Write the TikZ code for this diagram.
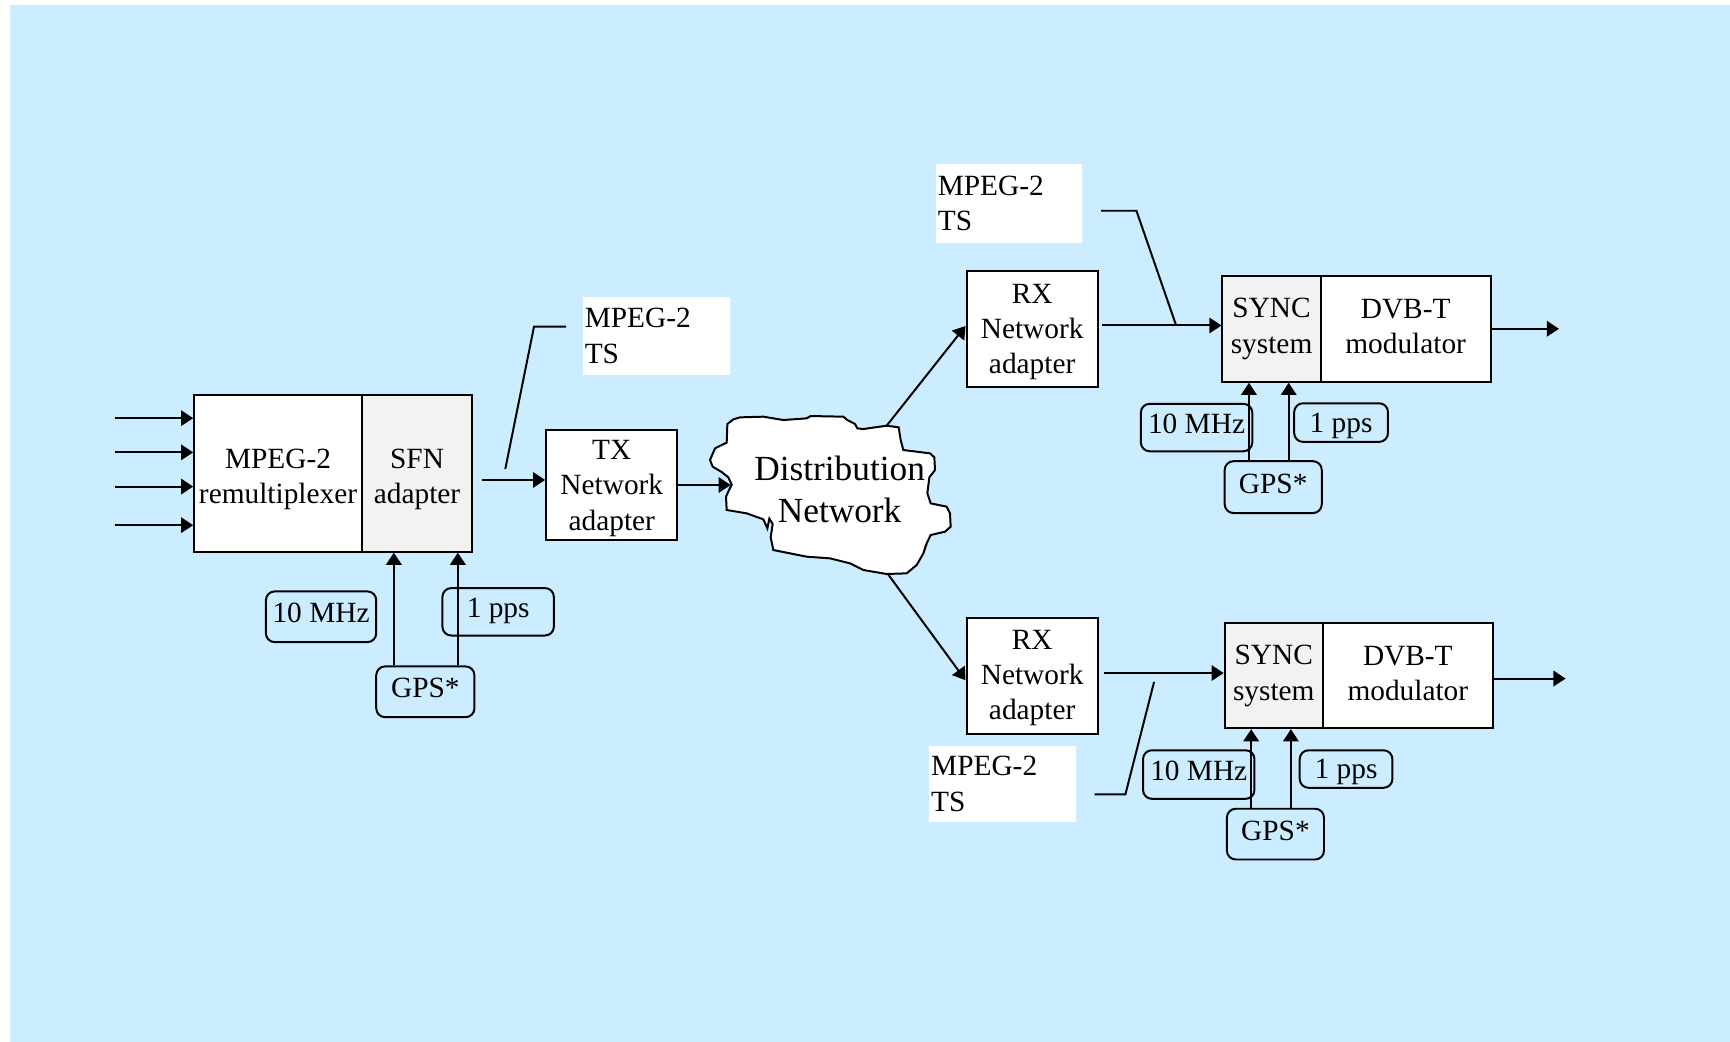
\documentclass[tikz,border=0pt]{standalone}
\usepackage{fontspec}
\setmainfont{Liberation Serif}
\usetikzlibrary{arrows.meta}
\definecolor{bgblue}{RGB}{204,236,255}
\definecolor{lgray}{RGB}{242,242,242}
\begin{document}
\begin{tikzpicture}[x=0.5pt,y=-0.5pt,
 line width=0.9pt,
 txt/.style={font=\fontsize{13.3}{16}\selectfont},
 blk/.style={draw, fill=white, inner sep=0pt},
 gblk/.style={blk, fill=lgray},
 btxt/.style={txt, align=center, inner sep=0pt},
 rbox/.style={draw, rounded corners=4pt, txt, inner sep=0pt, text height=9pt, text depth=3.5pt},
 ppsbox/.style={rbox, text depth=0pt},
 lbl/.style={fill=white, txt, align=left, inner xsep=1pt, inner ysep=0pt},
 arr/.style={-{Triangle[length=5.5pt,width=7pt]}},
]
\useasboundingbox (0,0) rectangle (1568,944);
\fill[bgblue] (9,4.5) rectangle (1568,944);

% ---- left group
\node[blk, minimum width=76pt, minimum height=71pt] (remux) at (252,429) {};
\node[btxt] (remuxT) at ([yshift=-2.75pt]remux.center) {MPEG-2\\remultiplexer};
\node[gblk, minimum width=50pt, minimum height=71pt] (sfn) at (378,429) {};
\node[btxt] (sfnT) at ([yshift=-2.75pt]sfn.center) {SFN\\adapter};
\node[rbox, minimum width=50pt, minimum height=23pt] (mhzL) at (291,559) {10 MHz};
\node[rbox, minimum width=50.5pt, minimum height=21.5pt] (ppsL) at (451.5,554.5) {1 pps};
\node[rbox, minimum width=44.5pt, minimum height=23pt] (gpsL) at (385.5,627) {GPS*};
\draw[arr] ([xshift=-14.25pt]gpsL.north) -- ([xshift=-14.25pt]gpsL.north |- sfn.south);
\draw[arr] ([xshift=14.75pt]gpsL.north) -- ([xshift=14.75pt]gpsL.north |- sfn.south);

\foreach \i/\yy in {1/379,2/410,3/441,4/476}{
  \coordinate (in\i) at (104,\yy);
  \draw[arr] (in\i) -- (in\i -| remux.west);
}

\node[blk, minimum width=59.5pt, minimum height=49.5pt] (tx) at (554.5,439.5) {};
\node[btxt] (txT) at ([yshift=-1.5pt]tx.center) {TX\\Network\\adapter};
\coordinate (o1) at (437,435);
\draw[arr] (o1) -- (o1 -| tx.west);

\node[lbl, minimum width=67pt, minimum height=35.5pt, text width=65pt] (l1) at (595,304.5) {MPEG-2\\TS};
\coordinate (c1a) at (458,425);
\coordinate (c1b) at (484,296);
\coordinate (c1c) at (513,296);
\draw (c1a) -- (c1b) -- (c1c);

% ---- cloud
\begin{scope}[shift={(480.4,253.8)}, scale=0.3021]
\draw[fill=white] (592,432) -- (610,418) -- (630,412) -- (700,410) -- (760,420) -- (830,415) -- (842,408)
 -- (940,410) -- (952,420) -- (975,432) -- (982,445) -- (1000,447) -- (1070,437) -- (1106,442)
 -- (1112,480) -- (1120,510) -- (1200,520) -- (1213,532) -- (1215,570) -- (1198,592) -- (1192,640)
 -- (1202,670) -- (1250,680) -- (1260,700) -- (1262,740) -- (1245,755) -- (1202,765) -- (1190,790)
 -- (1180,820) -- (1160,855) -- (1130,880) -- (1070,882) -- (1000,870) -- (960,850) -- (900,835)
 -- (830,830) -- (730,810) -- (722,772) -- (728,732) -- (718,716) -- (712,745) -- (700,718)
 -- (650,700) -- (590,690) -- (588,650) -- (598,628) -- (605,614) -- (595,592) -- (575,576)
 -- (548,560) -- (540,540) -- (555,505) -- (575,495) -- (590,488) -- cycle;
\coordinate (cin) at (602,615);
\coordinate (ctop) at (1070,437);
\coordinate (cbot) at (1075,884);
\end{scope}
\node[font=\fontsize{16}{19}\selectfont, align=center, inner sep=0pt] (dist) at (761,444) {Distribution\\Network};
\draw[arr] (tx.east |- cin) -- (cin);

% ---- upper right
\node[blk, minimum width=59.5pt, minimum height=52.5pt] (rx1) at (935.5,298.5) {};
\node[btxt] (rx1T) at ([yshift=-1.25pt]rx1.center) {RX\\Network\\adapter};
\node[gblk, minimum width=44.5pt, minimum height=48pt] (sync1) at (1152.5,298) {};
\node[btxt] (sync1T) at (sync1.center) {SYNC\\system};
\node[blk, minimum width=77pt, minimum height=48pt] (dvb1) at (1274,298) {};
\node[btxt] (dvb1T) at ([yshift=1pt]dvb1.center) {DVB-T\\modulator};
\draw[arr] (ctop) -- ([yshift=1.5pt]rx1.west);
\coordinate (a1) at (999,295);
\draw[arr] (a1) -- (a1 -| sync1.west);
\node[lbl, minimum width=66.5pt, minimum height=35.5pt, text width=64.5pt] (l2) at (914.5,184.5) {MPEG-2\\TS};
\coordinate (c2a) at (998,191);
\coordinate (c2b) at (1030,191);
\coordinate (c2c) at (1066,295);
\draw (c2a) -- (c2b) -- (c2c);
\coordinate (f1) at (1413,298);
\draw[arr] (dvb1.east |- f1) -- (f1);
\node[rbox, minimum width=50.5pt, minimum height=21.5pt] (mhz1) at (1084.5,387.5) {10 MHz};
\node[ppsbox, minimum width=42.5pt, minimum height=17.5pt] (pps1) at (1215.5,383) {1 pps};
\node[rbox, minimum width=44pt, minimum height=23.5pt] (gps1) at (1154,441.5) {GPS*};
\draw[arr] ([xshift=-11pt]gps1.north) -- ([xshift=-11pt]gps1.north |- sync1.south);
\draw[arr] ([xshift=7pt]gps1.north) -- ([xshift=7pt]gps1.north |- sync1.south);

% ---- lower right
\node[blk, minimum width=59.5pt, minimum height=52.5pt] (rx2) at (935.5,612.5) {};
\node[btxt] (rx2T) at ([yshift=-1pt]rx2.center) {RX\\Network\\adapter};
\node[gblk, minimum width=44.5pt, minimum height=47.5pt] (sync2) at (1154.5,612.5) {};
\node[btxt] (sync2T) at (sync2.center) {SYNC\\system};
\node[blk, minimum width=77pt, minimum height=47.5pt] (dvb2) at (1276,612.5) {};
\node[btxt] (dvb2T) at ([yshift=1pt]dvb2.center) {DVB-T\\modulator};
\draw[arr] (cbot) -- ([yshift=-2pt]rx2.west);
\coordinate (a2) at (1001,610);
\draw[arr] (a2) -- (a2 -| sync2.west);
\node[lbl, minimum width=66.5pt, minimum height=34.5pt, text width=64.5pt] (l3) at (908.5,710.5) {MPEG-2\\TS};
\coordinate (c3a) at (1046,618);
\coordinate (c3b) at (1020,720);
\coordinate (c3c) at (992,720);
\draw (c3a) -- (c3b) -- (c3c);
\coordinate (f2) at (1419,615);
\draw[arr] (dvb2.east |- f2) -- (f2);
\node[rbox, minimum width=50.5pt, minimum height=22pt] (mhz2) at (1086.5,702) {10 MHz};
\node[ppsbox, minimum width=42pt, minimum height=17pt] (pps2) at (1220,697) {1 pps};
\node[rbox, minimum width=44pt, minimum height=23pt] (gps2) at (1156,756) {GPS*};
\draw[arr] ([xshift=-11pt]gps2.north) -- ([xshift=-11pt]gps2.north |- sync2.south);
\draw[arr] ([xshift=7pt]gps2.north) -- ([xshift=7pt]gps2.north |- sync2.south);
\end{tikzpicture}
\end{document}
